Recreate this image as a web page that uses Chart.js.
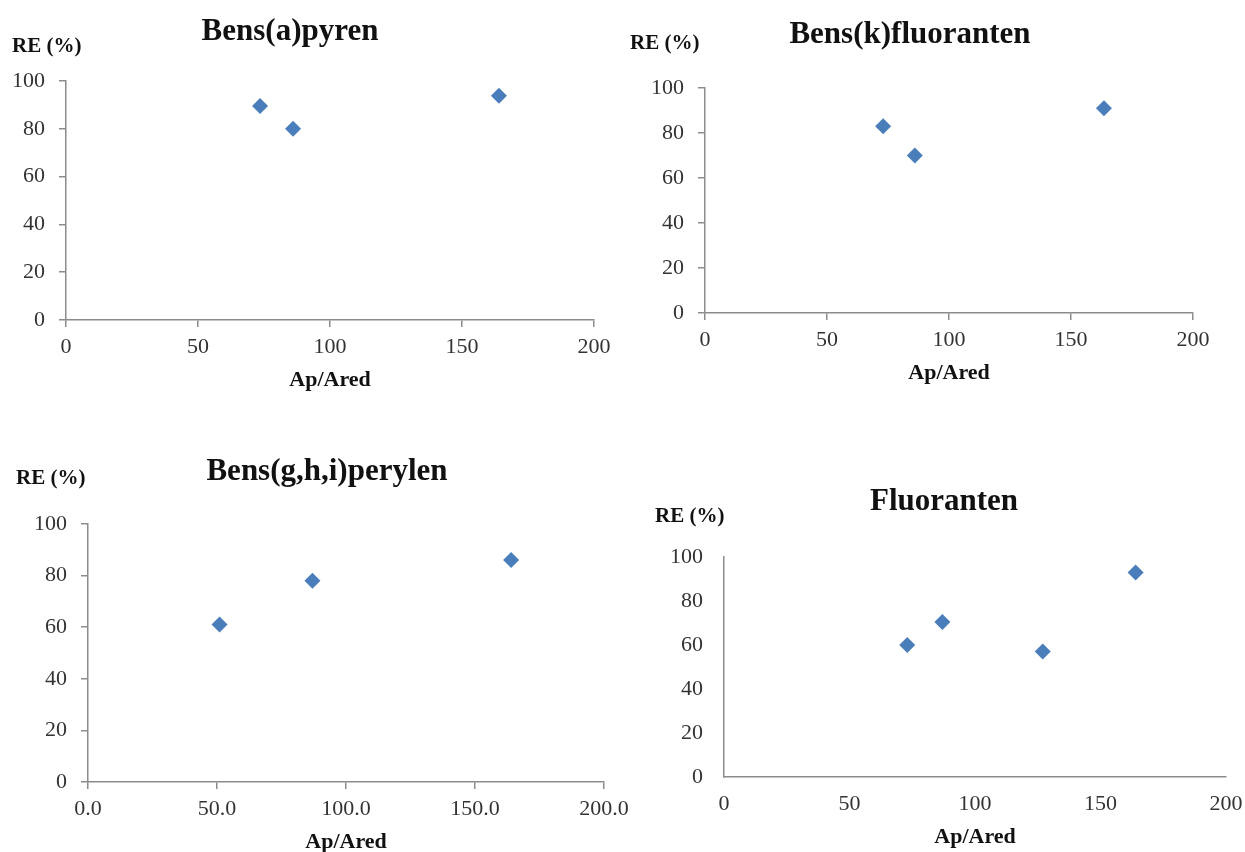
<!DOCTYPE html>
<html>
<head>
<meta charset="utf-8">
<script src="https://cdn.jsdelivr.net/npm/chart.js@4"></script>
<style>
  html, body { margin: 0; padding: 0; background: #fff; }
  body { width: 1245px; height: 852px; position: relative; overflow: hidden; }
  .panel { position: absolute; }
  .panel canvas { display: block; }
</style>
</head>
<body>
<div class="panel" id="p1"><canvas id="c1"></canvas></div>
<div class="panel" id="p2"><canvas id="c2"></canvas></div>
<div class="panel" id="p3"><canvas id="c3"></canvas></div>
<div class="panel" id="p4"><canvas id="c4"></canvas></div>
<script>
// ===== DATA =====
const titles = ["Bens(a)pyren", "Bens(k)fluoranten", "Bens(g,h,i)perylen", "Fluoranten"];
const yAxisLabel = "RE (%)";
const xAxisLabel = "Ap/Ared";

const xTicks = [0, 50, 100, 150, 200];
const yTicks = [0, 20, 40, 60, 80, 100];

const bapX = [73.5, 86, 164];
const bapY = [89.5, 80, 93.8];

const bkfX = [73, 86, 163.5];
const bkfY = [83, 70, 91];

const bghiX = [51, 87, 164];
const bghiY = [61, 78, 86];

const fluX = [73, 87, 127, 164];
const fluY = [60, 70.5, 57, 93];

// ===== LAYOUT (page pixels) =====
// box = canvas position, area = plot area, t = title centre, re = "RE (%)" left/middle
const panels = [
  { id: "c1", div: "p1", xs: bapX, ys: bapY, title: titles[0], ticks: true, dec: 0,
    box: [0, 0, 620, 400], area: [66, 81, 594, 320], t: [290, 32], re: [12, 47] },
  { id: "c2", div: "p2", xs: bkfX, ys: bkfY, title: titles[1], ticks: true, dec: 0,
    box: [620, 0, 625, 400], area: [705, 88, 1193, 313], t: [910, 35], re: [630, 44] },
  { id: "c3", div: "p3", xs: bghiX, ys: bghiY, title: titles[2], ticks: true, dec: 1,
    box: [0, 420, 650, 440], area: [88, 524, 604, 782], t: [327, 472], re: [16, 479] },
  { id: "c4", div: "p4", xs: fluX, ys: fluY, title: titles[3], ticks: false, dec: 0,
    box: [640, 420, 640, 432], area: [724, 557, 1226, 777], t: [944, 502], re: [655, 517] }
];

const FONT = "'Liberation Serif', 'Times New Roman', serif";
const AXIS_COLOR = "#8c8c8c";
const POINT_COLOR = "#4a7ebb";
const X_AXIS_H = 73.2;

// ===== TEXT PLUGIN =====
// draws the panel title and the horizontal "RE (%)" label
const panelText = {
  id: "panelText",
  afterDraw(chart, args, opts) {
    const ctx = chart.ctx;
    ctx.save();
    ctx.fillStyle = "#111";
    ctx.textBaseline = "middle";

    ctx.font = "bold 31px " + FONT;
    ctx.textAlign = "center";
    ctx.fillText(opts.title, opts.tx, opts.ty);

    ctx.font = "bold 21px " + FONT;
    ctx.textAlign = "left";
    ctx.fillText(yAxisLabel, opts.rx, opts.ry);
    ctx.restore();
  }
};

// ===== CHARTS =====
panels.forEach(p => {
  const [bx, by, bw, bh] = p.box;
  const [L, T, R, B] = p.area;

  const div = document.getElementById(p.div);
  div.style.left = bx + "px";
  div.style.top = by + "px";
  div.style.width = bw + "px";
  div.style.height = bh + "px";

  const tickLen = p.ticks ? 7 : 0;
  const points = p.xs.map((x, i) => ({ x: x, y: p.ys[i] }));

  new Chart(document.getElementById(p.id), {
    type: "scatter",
    data: {
      datasets: [{
        data: points,
        pointStyle: "rectRot",
        pointRadius: 8,
        pointHoverRadius: 8,
        backgroundColor: POINT_COLOR,
        borderColor: POINT_COLOR,
        borderWidth: 0
      }]
    },
    plugins: [panelText],
    options: {
      responsive: true,
      maintainAspectRatio: false,
      animation: false,
      layout: {
        padding: {
          left: 0,
          top: T - by,
          right: bx + bw - R,
          bottom: bh - (B - by) - X_AXIS_H
        }
      },
      plugins: {
        legend: { display: false },
        tooltip: { enabled: false },
        title: { display: false },
        panelText: {
          title: p.title,
          tx: p.t[0] - bx, ty: p.t[1] - by,
          rx: p.re[0] - bx, ry: p.re[1] - by
        }
      },
      scales: {
        x: {
          type: "linear",
          min: xTicks[0],
          max: xTicks[xTicks.length - 1],
          afterBuildTicks: s => { s.ticks = xTicks.map(v => ({ value: v })); },
          afterFit: s => { s.height = X_AXIS_H; },
          border: { display: true, color: AXIS_COLOR, width: 1.5 },
          grid: {
            display: true,
            drawOnChartArea: false,
            drawTicks: p.ticks,
            tickLength: 7,
            color: AXIS_COLOR,
            lineWidth: 1.5
          },
          ticks: {
            padding: 13.8 - tickLen,
            color: "#333",
            font: { family: FONT, size: 22 },
            callback: v => v.toFixed(p.dec)
          },
          title: {
            display: true,
            text: xAxisLabel,
            color: "#111",
            padding: { top: 0, bottom: 0 },
            font: { family: FONT, size: 22, weight: "bold" }
          }
        },
        y: {
          type: "linear",
          min: yTicks[0],
          max: yTicks[yTicks.length - 1],
          afterBuildTicks: s => { s.ticks = yTicks.map(v => ({ value: v })); },
          afterFit: s => { s.width = L - bx; },
          border: { display: true, color: AXIS_COLOR, width: 1.5 },
          grid: {
            display: true,
            drawOnChartArea: false,
            drawTicks: p.ticks,
            tickLength: 7,
            color: AXIS_COLOR,
            lineWidth: 1.5
          },
          ticks: {
            padding: 21 - tickLen,
            color: "#333",
            font: { family: FONT, size: 22 }
          }
        }
      }
    }
  });
});
</script>
</body>
</html>
